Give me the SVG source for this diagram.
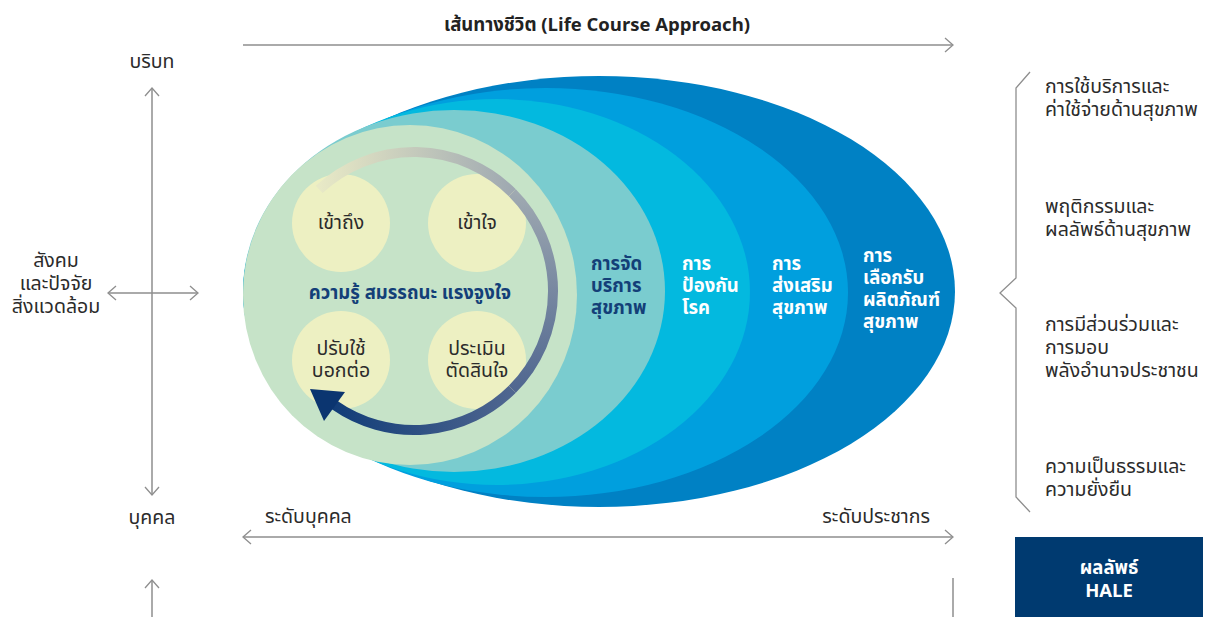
<svg xmlns="http://www.w3.org/2000/svg" width="1212" height="617" viewBox="0 0 1212 617">
<style>
text{font-family:'Noto Sans Thai','Noto Sans','DejaVu Sans',sans-serif;}
.t{font-size:19.5px;fill:#2b2b2b;}
.tt{font-size:18.5px;font-weight:bold;fill:#222222;}
.c{text-anchor:middle;}
.w{font-size:18.5px;font-weight:bold;fill:#ffffff;}
.n{font-size:18.5px;font-weight:bold;fill:#133f78;}
.h{font-size:18.5px;font-weight:bold;fill:#ffffff;}
.ax{stroke:#8e8e8e;stroke-width:1.5;fill:none;}
.hd{stroke:#8e8e8e;stroke-width:1.3;fill:none;}
</style>
<defs>
<linearGradient id="gA" gradientUnits="userSpaceOnUse" x1="319" y1="189" x2="512" y2="193">
<stop offset="0" stop-color="#E8E9C6"/><stop offset="1" stop-color="#9FA9B1"/></linearGradient>
<linearGradient id="gB" gradientUnits="userSpaceOnUse" x1="512" y1="193" x2="512" y2="389">
<stop offset="0" stop-color="#9FA9B1"/><stop offset="1" stop-color="#506790"/></linearGradient>
<linearGradient id="gC" gradientUnits="userSpaceOnUse" x1="512" y1="389" x2="334" y2="405">
<stop offset="0" stop-color="#506790"/><stop offset="1" stop-color="#123D78"/></linearGradient>
</defs>

<g id="title">
<text class="tt c" x="597" y="31">เส้นทางชีวิต (Life Course Approach)</text>
</g>

<g id="connectors">
<line class="ax" x1="243" y1="45" x2="952" y2="45"/>
<polyline class="hd" points="945,38 953,45 945,52"/>
<line class="ax" x1="152" y1="89" x2="152" y2="494"/>
<polyline class="hd" points="145,96 152,88 159,96"/>
<polyline class="hd" points="145,487 152,495 159,487"/>
<line class="ax" x1="108" y1="293" x2="197" y2="293"/>
<polyline class="hd" points="116,286 108,293 116,300"/>
<polyline class="hd" points="190,286 198,293 190,300"/>
<line class="ax" x1="244" y1="537" x2="952" y2="537"/>
<polyline class="hd" points="251,530 243,537 251,544"/>
<polyline class="hd" points="945,530 953,537 945,544"/>
<line class="ax" x1="152" y1="581" x2="152" y2="617"/>
<polyline class="hd" points="145,588 152,580 159,588"/>
<line class="ax" x1="953" y1="578" x2="953" y2="617"/>
<polyline class="hd" points="1030,72 1016,88 1016,278 1000,293 1016,308 1016,497 1030,512"/>
</g>

<g id="axis-labels">
<text class="t c" x="152" y="68">บริบท</text>
<text class="t c" x="152" y="524">บุคคล</text>
<text class="t c" x="56" y="267">สังคม</text>
<text class="t c" x="56" y="290">และปัจจัย</text>
<text class="t c" x="56" y="313">สิ่งแวดล้อม</text>
<text class="t" x="265" y="523">ระดับบุคคล</text>
<text class="t" x="930" y="523" text-anchor="end">ระดับประชากร</text>
</g>

<g id="layer-products">
<ellipse cx="599" cy="291.5" rx="356" ry="215.5" fill="#0081C4"/>
<text class="w" x="863" y="262">การ</text>
<text class="w" x="863" y="284">เลือกรับ</text>
<text class="w" x="863" y="306">ผลิตภัณฑ์</text>
<text class="w" x="863" y="328">สุขภาพ</text>
</g>
<g id="layer-promotion">
<ellipse cx="545.5" cy="292.5" rx="302.5" ry="204.5" fill="#009FDE"/>
<text class="w" x="772" y="270">การ</text>
<text class="w" x="772" y="292">ส่งเสริม</text>
<text class="w" x="772" y="314">สุขภาพ</text>
</g>
<g id="layer-prevention">
<ellipse cx="496.5" cy="292" rx="253.5" ry="193" fill="#03B9DF"/>
<text class="w" x="682" y="270">การ</text>
<text class="w" x="682" y="292">ป้องกัน</text>
<text class="w" x="682" y="314">โรค</text>
</g>
<g id="layer-service">
<ellipse cx="454" cy="291" rx="211" ry="181" fill="#7ACCCF"/>
<text class="n" x="591" y="270">การจัด</text>
<text class="n" x="591" y="292">บริการ</text>
<text class="n" x="591" y="314">สุขภาพ</text>
</g>
<g id="core">
<ellipse cx="410" cy="295" rx="167" ry="170" fill="#C6E3C8"/>
</g>

<g id="node-access">
<circle cx="341" cy="223" r="49" fill="#EDF0C2"/>
<text class="t c" x="341" y="229">เข้าถึง</text>
</g>
<g id="node-understand">
<circle cx="477" cy="223" r="49" fill="#EDF0C2"/>
<text class="t c" x="477" y="229">เข้าใจ</text>
</g>
<g id="node-apply">
<circle cx="341" cy="360" r="49" fill="#EDF0C2"/>
<text class="t c" x="341" y="355">ปรับใช้</text>
<text class="t c" x="341" y="377">บอกต่อ</text>
</g>
<g id="node-evaluate">
<circle cx="477" cy="360" r="49" fill="#EDF0C2"/>
<text class="t c" x="477" y="355">ประเมิน</text>
<text class="t c" x="477" y="377">ตัดสินใจ</text>
</g>

<g id="cycle-arrow">
<path d="M319.2,189.4 A139,139 0 0 1 512.3,192.7" fill="none" stroke="url(#gA)" stroke-width="10"/>
<path d="M512.3,192.7 A139,139 0 0 1 512.3,389.3" fill="none" stroke="url(#gB)" stroke-width="10"/>
<path d="M512.3,389.3 A139,139 0 0 1 334.3,404.9" fill="none" stroke="url(#gC)" stroke-width="10"/>
<polygon points="310,389 345,392 324,421" fill="#0B3570"/>
</g>
<g id="core-label">
<text class="n c" x="410" y="299">ความรู้ สมรรถนะ แรงจูงใจ</text>
</g>

<g id="outcomes">
<text class="t" x="1045" y="93">การใช้บริการและ</text>
<text class="t" x="1045" y="116">ค่าใช้จ่ายด้านสุขภาพ</text>
<text class="t" x="1045" y="213">พฤติกรรมและ</text>
<text class="t" x="1045" y="236">ผลลัพธ์ด้านสุขภาพ</text>
<text class="t" x="1045" y="331">การมีส่วนร่วมและ</text>
<text class="t" x="1045" y="354">การมอบ</text>
<text class="t" x="1045" y="377">พลังอำนาจประชาชน</text>
<text class="t" x="1045" y="473">ความเป็นธรรมและ</text>
<text class="t" x="1045" y="496">ความยั่งยืน</text>
</g>

<g id="hale">
<rect x="1015" y="537" width="188" height="80" fill="#003A70"/>
<text class="h c" x="1109" y="574">ผลลัพธ์</text>
<text class="h c" x="1109" y="597">HALE</text>
</g>
</svg>
